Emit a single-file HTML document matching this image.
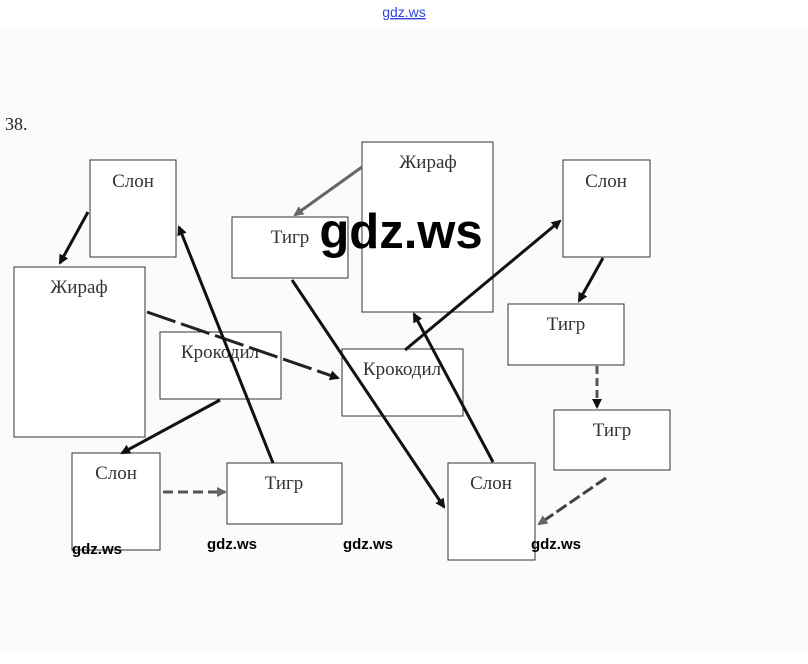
<!DOCTYPE html>
<html><head><meta charset="utf-8"><style>
html,body{margin:0;padding:0;background:#fbfbfb;width:808px;height:664px;overflow:hidden}
svg{display:block}
</style></head><body>
<svg width="808" height="664" xmlns="http://www.w3.org/2000/svg">
<defs>
<marker id="a" markerWidth="10" markerHeight="10" refX="8" refY="5" orient="auto" markerUnits="userSpaceOnUse"><path d="M0,0 L10,5 L0,10 z" fill="#111"/></marker>
<marker id="g" markerWidth="10" markerHeight="10" refX="8" refY="5" orient="auto" markerUnits="userSpaceOnUse"><path d="M0,0 L10,5 L0,10 z" fill="#666"/></marker>
</defs>
<rect x="0" y="0" width="808" height="28" fill="#fff"/>
<rect x="0" y="652" width="808" height="12" fill="#fff"/>
<text x="404" y="17" font-family="Liberation Sans,sans-serif" font-size="14" fill="#3344dd" text-anchor="middle" text-decoration="underline">gdz.ws</text>
<text x="5" y="130" font-family="Liberation Serif,serif" font-size="18" fill="#222">38.</text>
<g fill="#fff" stroke="#333" stroke-width="1">
<rect x="90" y="160" width="86" height="97"/>
<rect x="232" y="217" width="116" height="61"/>
<rect x="362" y="142" width="131" height="170"/>
<rect x="563" y="160" width="87" height="97"/>
<rect x="14" y="267" width="131" height="170"/>
<rect x="160" y="332" width="121" height="67"/>
<rect x="342" y="349" width="121" height="67"/>
<rect x="508" y="304" width="116" height="61"/>
<rect x="554" y="410" width="116" height="60"/>
<rect x="72" y="453" width="88" height="97"/>
<rect x="227" y="463" width="115" height="61"/>
<rect x="448" y="463" width="87" height="97"/>
</g>
<g font-family="Liberation Serif,'DejaVu Serif',serif" font-size="19" fill="#333" text-anchor="middle">
<text x="133" y="187">Слон</text>
<text x="290" y="243">Тигр</text>
<text x="428" y="168">Жираф</text>
<text x="606" y="187">Слон</text>
<text x="79" y="293">Жираф</text>
<text x="220" y="358">Крокодил</text>
<text x="402" y="375">Крокодил</text>
<text x="566" y="330">Тигр</text>
<text x="612" y="436">Тигр</text>
<text x="116" y="479">Слон</text>
<text x="284" y="489">Тигр</text>
<text x="491" y="489">Слон</text>
</g>
<g stroke-width="3" fill="none">
<line x1="88" y1="212" x2="60" y2="263" stroke="#111" marker-end="url(#a)"/>
<line x1="362" y1="167" x2="295" y2="215" stroke="#666" marker-end="url(#g)"/>
<line x1="292" y1="280" x2="444" y2="507" stroke="#111" marker-end="url(#a)"/>
<line x1="147" y1="312" x2="338" y2="378" stroke="#222" stroke-dasharray="30,6" marker-end="url(#a)"/>
<line x1="220" y1="400" x2="122" y2="453" stroke="#111" marker-end="url(#a)"/>
<line x1="163" y1="492" x2="225" y2="492" stroke="#555" stroke-dasharray="10,5" marker-end="url(#g)"/>
<line x1="273" y1="463" x2="179" y2="227" stroke="#111" marker-end="url(#a)"/>
<line x1="405" y1="350" x2="560" y2="221" stroke="#111" marker-end="url(#a)"/>
<line x1="493" y1="462" x2="414" y2="314" stroke="#111" marker-end="url(#a)"/>
<line x1="603" y1="258" x2="579" y2="301" stroke="#111" marker-end="url(#a)"/>
<line x1="597" y1="366" x2="597" y2="407" stroke="#555" stroke-dasharray="8,4" marker-end="url(#a)"/>
<line x1="606" y1="478" x2="539" y2="524" stroke="#444" stroke-dasharray="12,4" marker-end="url(#g)"/>
</g>
<text x="401" y="248" font-family="Liberation Sans,sans-serif" font-size="49" font-weight="bold" fill="#000" text-anchor="middle">gdz.ws</text>
<g font-family="Liberation Sans,sans-serif" font-size="15" font-weight="bold" fill="#000" text-anchor="middle">
<text x="97" y="554">gdz.ws</text>
<text x="232" y="549">gdz.ws</text>
<text x="368" y="549">gdz.ws</text>
<text x="556" y="549">gdz.ws</text>
</g>
</svg>
</body></html>
